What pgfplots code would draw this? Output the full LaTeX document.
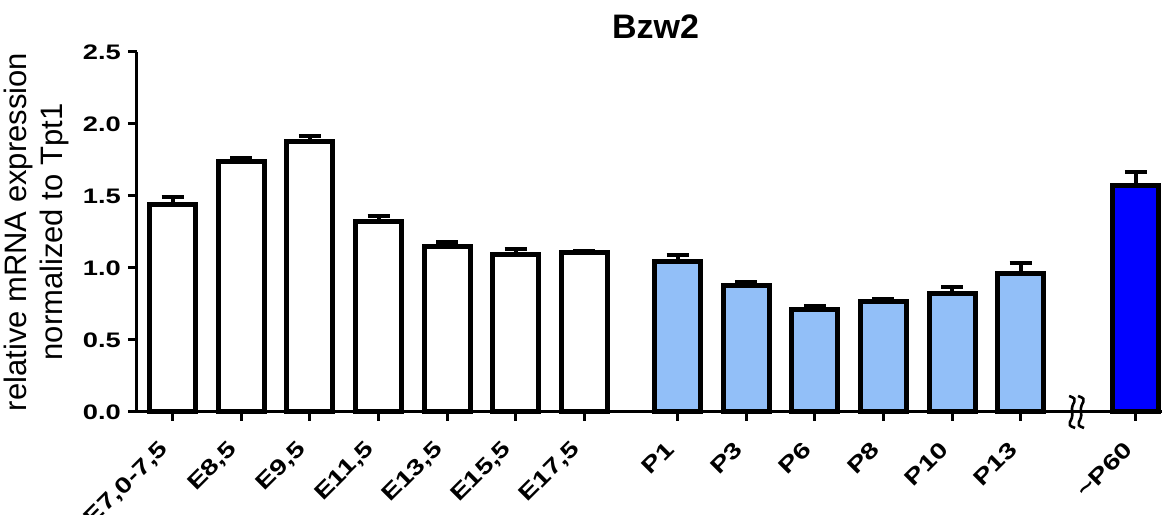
\documentclass[border=0pt]{standalone}
\usepackage{fontspec}
\setmainfont{Liberation Sans}
\newfontfamily\tickfont{Liberation Sans}[FakeStretch=1.3]
\usepackage{pgfplots}
\pgfplotsset{compat=1.18}
\definecolor{lightbar}{HTML}{92BFF8}
\begin{document}
\begin{tikzpicture}
\begin{axis}[
  scale only axis, width=512.5pt, height=180pt,
  xmin=-0.52, xmax=14.42, ymin=0, ymax=2.5,
  axis x line*=bottom, axis y line*=left,
  axis line style={line width=1.5pt},
  tick style={line width=1.5pt, black},
  major tick length=4.5pt, tick align=outside,
  ytick={0,0.5,1,1.5,2,2.5},
  /pgf/number format/assume math mode=true,
  yticklabel style={/pgf/number format/fixed, /pgf/number format/fixed zerofill,
    /pgf/number format/precision=1, font=\tickfont\bfseries\fontsize{10.5}{12}\selectfont},
  xtick={0,1,2,3,4,5,6,7.36,8.36,9.36,10.36,11.36,12.36,14.04},
  xticklabels={{E7,0-7,5},{E8,5},{E9,5},{E11,5},{E13,5},{E15,5},{E17,5},P1,P3,P6,P8,P10,P13,\textasciitilde P60},
  xticklabel style={xshift=-3pt, yshift=-11.5pt, rotate=45, anchor=east, inner sep=1pt,
    font=\tickfont\bfseries\fontsize{11}{12}\selectfont},
  ylabel={relative mRNA expression\\normalized to Tpt1},
  ylabel style={align=center, font=\fontsize{15.5}{18}\selectfont},
  title={Bzw2},
  title style={font=\bfseries\fontsize{17}{20}\selectfont, yshift=-3pt, xshift=3pt},
  ybar, bar shift=0pt, bar width=0.67,
  error bars/y dir=plus, error bars/y explicit,
  error bars/error bar style={line width=2pt, black},
  error bars/error mark options={line width=2pt, mark size=5.5pt, black, rotate=90},
  clip=false,
]
\addplot[draw=black, fill=white, line width=2.5pt] coordinates {
  (0,1.44) +- (0,0.05)
  (1,1.74) +- (0,0.025)
  (2,1.875) +- (0,0.04)
  (3,1.32) +- (0,0.04)
  (4,1.148) +- (0,0.035)
  (5,1.097) +- (0,0.033)
  (6,1.11) +- (0,0.008)
};
\addplot[draw=black, fill=lightbar, line width=2.5pt] coordinates {
  (7.36,1.045) +- (0,0.045)
  (8.36,0.875) +- (0,0.03)
  (9.36,0.71) +- (0,0.025)
  (10.36,0.77) +- (0,0.015)
  (11.36,0.826) +- (0,0.04)
  (12.36,0.965) +- (0,0.07)
};
\addplot[draw=black, fill=blue, line width=2.5pt] coordinates {
  (14.04,1.57) +- (0,0.10)
};
\draw[line width=1.3pt] (axis cs:13.11,0) ++(-1.5pt,8pt) .. controls ++(6pt,-2pt) and ++(-1pt,5pt) .. ++(1.5pt,-8pt) .. controls ++(1pt,-5pt) and ++(-6pt,2pt) .. ++(1.5pt,-8pt);
\draw[line width=1.3pt] (axis cs:13.24,0) ++(-1.5pt,8pt) .. controls ++(6pt,-2pt) and ++(-1pt,5pt) .. ++(1.5pt,-8pt) .. controls ++(1pt,-5pt) and ++(-6pt,2pt) .. ++(1.5pt,-8pt);
\end{axis}
\pgfresetboundingbox
\path ([xshift=-68.5pt,yshift=-51.5pt]current axis.south west) rectangle ([xshift=1.5pt,yshift=26pt]current axis.north east);
\end{tikzpicture}
\end{document}
